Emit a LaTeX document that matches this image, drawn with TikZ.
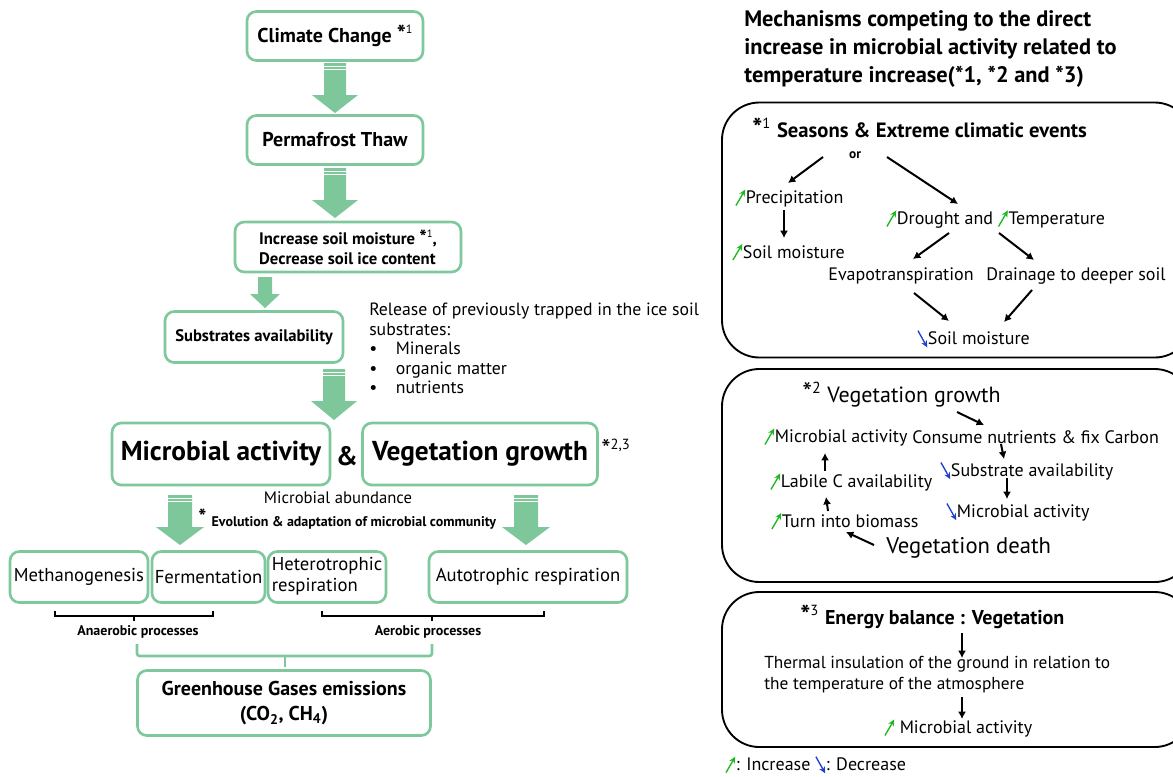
\documentclass[tikz,border=0pt]{standalone}
\usepackage{fontspec}
\setmainfont{PT Sans}
\usetikzlibrary{arrows.meta,calc}
\definecolor{boxgreen}{HTML}{7FC89D}
\definecolor{arrowgreen}{HTML}{7DC79B}
\definecolor{incg}{HTML}{1DB81D}
\definecolor{decb}{HTML}{1F3FD0}
\newcommand\incr{\tikz[baseline=0pt]\draw[incg,line width=1pt,-{Stealth[length=5pt,width=4.6pt]}] (0pt,-1.5pt) -- (7pt,10.5pt);}
\newcommand\decr{\tikz[baseline=0pt]\draw[decb,line width=1pt,-{Stealth[length=5pt,width=4.6pt]}] (0pt,10.5pt) -- (7pt,-2pt);}
\newcommand\fsz[1]{\fontsize{#1}{#1}\selectfont}
% star + superscript digits: star size, digit size, raise, digits
\newcommand\sst[4]{{\fsz{#1}*}\raisebox{#3}{\fsz{#2}\mdseries #4}}
\newcommand\barrow[6]{\fill[arrowgreen] (#1-#4,#2) -- (#1+#4,#2) -- (#1+#4,#6) -- (#1+#5,#6) -- (#1,#3) -- (#1-#5,#6) -- (#1-#4,#6) -- cycle;}
\newcommand\stripes[3]{\draw[white,line width=0.6pt] (#1-#3,#2+3) -- (#1+#3,#2+3) (#1-#3,#2+6) -- (#1+#3,#2+6);}
\begin{document}
\begin{tikzpicture}[x=0.75pt,y=-0.75pt,
  sz/.style 2 args={minimum width=#1*0.75pt, minimum height=#2*0.75pt},
  gbox/.style={draw=boxgreen, line width=2pt, rounded corners=7pt, fill=white, inner sep=0pt, align=center},
  pbox/.style={draw=black, line width=1.4pt, rounded corners=28pt, inner sep=0pt},
  txt/.style={inner sep=0pt, anchor=west, font=\fsz{13.5}},
  blk/.style={draw=black, line width=1.5pt, -{Latex[length=5.5pt,width=6pt]}},
  gline/.style={draw=boxgreen, line width=2pt, rounded corners=2pt},
  bline/.style={draw=black, line width=0.9pt}]
\useasboundingbox (0,0) rectangle (1173,776);
\clip (0,0) rectangle (1173,776);
\fill[white] (0,0) rectangle (1173,776);

% ---------------- left column ----------------
\node[gbox, sz={176}{49}, font=\bfseries\fsz{15}] (cc) at (335,36) {Climate Change \sst{18}{9}{6.7pt}{1}};
\barrow{335}{63}{113}{11}{23}{95}\stripes{335}{63}{11}
\node[gbox, sz={176}{49}, font=\bfseries\fsz{15}] (pt) at (335,140) {Permafrost Thaw};
\barrow{335}{168}{218}{11}{23}{200}\stripes{335}{168}{11}
\node[gbox, sz={226}{50}, font=\bfseries\fontsize{12.5}{15}\selectfont, align=left] (ism) at (348,247) {Increase soil moisture \sst{15}{8}{5.2pt}{1},\\Decrease soil ice content};
\barrow{265}{277}{308}{7}{15}{294}
\node[gbox, sz={178}{51}, font=\bfseries\fsz{12.5}] (sa) at (254,337) {Substrates availability};
\node[anchor=north west, align=left, inner sep=0pt, font=\fontsize{13.3}{14.6}\selectfont] (rel) at (369,303) {Release of previously trapped in the ice soil\\substrates:\\\textbullet\hspace{1.05em}Minerals\\\textbullet\hspace{1.05em}organic matter\\\textbullet\hspace{1.05em}nutrients};
\barrow{334}{369}{420}{11}{23}{401}\stripes{334}{369}{11}
\node[gbox, sz={218}{62}, font=\bfseries\fsz{20.5}] (ma) at (221,454) {Microbial activity};
\node[inner sep=0pt, font=\bfseries\fsz{20}] (amp) at (347,456) {\&};
\node[gbox, sz={235}{62}, font=\bfseries\fsz{20.5}] (vg) at (480,454) {Vegetation growth};
\node[inner sep=0pt, anchor=west, font=\fsz{13}] (s23) at (601,449) {\sst{20}{11}{6.7pt}{2,3}};
\node[inner sep=0pt, font=\fsz{12.5}] (mab) at (338,498) {Microbial abundance};
\node[inner sep=0pt, anchor=west, font=\bfseries\fsz{10.5}] (evo) at (198,519) {\raisebox{1pt}{\fsz{16}*}\hspace{4pt}Evolution \& adaptation of microbial community};
\barrow{180}{495}{545}{12}{24}{527}\stripes{180}{495}{12}
\barrow{526}{495}{545}{12}{24}{527}\stripes{526}{495}{12}
\node[gbox, sz={138}{51}, font=\fsz{14}] (meth) at (79,577) {Methanogenesis};
\node[gbox, sz={113}{51}, font=\fsz{14}] (ferm) at (208.5,577) {Fermentation};
\node[gbox, sz={118}{51}, font=\fontsize{14}{16}\selectfont] (het) at (327,577) {\begin{tabular}{@{}l@{}}Heterotrophic\\respiration\end{tabular}};
\node[gbox, sz={198}{51}, font=\fsz{14}] (auto) at (528,577) {\raisebox{3pt}{Autotrophic respiration}};
\draw[bline] (55,611) -- (55,616) -- (213,616) -- (213,611) (134,616) -- (134,621);
\draw[bline] (322,611) -- (322,616) -- (544,616) -- (544,611) (432,616) -- (432,621);
\node[inner sep=0pt, font=\bfseries\fsz{10.5}] (anaer) at (138,632) {Anaerobic processes};
\node[inner sep=0pt, font=\bfseries\fsz{10.5}] (aer) at (428,632) {Aerobic processes};
\draw[gline] (137,644) -- (137,656) -- (432,656) -- (432,644);
\draw[gline] (285,656) -- (285,667);
\node[gbox, sz={293}{65}, font=\bfseries\fontsize{15}{19}\selectfont] (ghg) at (284,703) {Greenhouse Gases emissions\\(CO\textsubscript{2}, CH\textsubscript{4})};

% ---------------- right column ----------------
\node[anchor=north west, align=left, inner sep=0pt, font=\bfseries\fontsize{16.8}{21}\selectfont] (title) at (744,10) {Mechanisms competing to the direct\\increase in microbial activity related to\\temperature increase(*1, *2 and *3)};

% panel 1
\node[pbox, sz={470}{255}] (p1) at (957,230) {};
\node[txt, font=\bfseries\fsz{15.5}] (h1) at (752,128) {\sst{20}{11}{6.7pt}{1}\hspace{5pt}Seasons \& Extreme climatic events};
\node[inner sep=0pt, font=\bfseries\fsz{10}] (or) at (855,155) {or};
\node[txt] (prec) at (735,198) {\incr Precipitation};
\node[txt] (sm1) at (732,252) {\incr Soil moisture};
\node[txt] (dt) at (886,219) {\incr Drought and \incr Temperature};
\node[inner sep=0pt, font=\fsz{13.5}] (evap) at (901,276) {Evapotranspiration};
\node[inner sep=0pt, font=\fsz{13.5}] (drain) at (1076,276) {Drainage to deeper soil};
\node[txt] (sm2) at (917,339) {\decr Soil moisture};
\draw[blk] (823,157) -- (788,183);
\draw[blk] (887,157) -- (958,204);
\draw[blk] (784,210) -- (784,238);
\draw[blk] (949,233) -- (913,259);
\draw[blk] (999,233) -- (1034,260);
\draw[blk] (914,293) -- (949,321);
\draw[blk] (1032,290) -- (1004,322);

% panel 2
\node[pbox, sz={470}{213}] (p2) at (957,475.5) {};
\node[txt, font=\fsz{16.5}] (h2) at (802,395) {\sst{21}{12}{6.7pt}{2}\hspace{5pt}Vegetation growth};
\node[txt] (ma2) at (764,437) {\incr Microbial activity};
\node[txt] (cons) at (912,437) {Consume nutrients \& fix Carbon};
\node[txt] (sub) at (940,471) {\decr Substrate availability};
\node[txt] (ma3) at (946,512) {\decr Microbial activity};
\node[txt] (lab) at (770,482) {\incr Labile C availability};
\node[txt] (turn) at (771,521) {\incr Turn into biomass};
\node[txt, font=\fsz{17}] (vd) at (886,548) {Vegetation death};
\draw[blk] (957,412) -- (984,425);
\draw[blk] (1001,444) -- (1004,459);
\draw[blk] (1007,478) -- (1007,499);
\draw[blk] (825,471) -- (825,453);
\draw[blk] (828,511) -- (826,497);
\draw[blk] (874,545) -- (846,532);

% panel 3
\node[pbox, sz={470}{155}] (p3) at (957,669.5) {};
\node[txt, font=\bfseries\fsz{15}] (h3) at (800,617) {\sst{20}{11}{6.7pt}{3}\hspace{5pt}Energy balance : Vegetation};
\node[anchor=north west, align=left, inner sep=0pt, font=\fontsize{13}{15.8}\selectfont] (th) at (764,656) {Thermal insulation of the ground in relation to\\the temperature of the atmosphere};
\node[txt] (ma4) at (884,728) {\incr\ Microbial activity};
\draw[blk] (962,633) -- (962,658);
\draw[blk] (962,697) -- (962,719);
\node[txt] (leg) at (725,765) {\incr: Increase \decr: Decrease};
\end{tikzpicture}
\end{document}
